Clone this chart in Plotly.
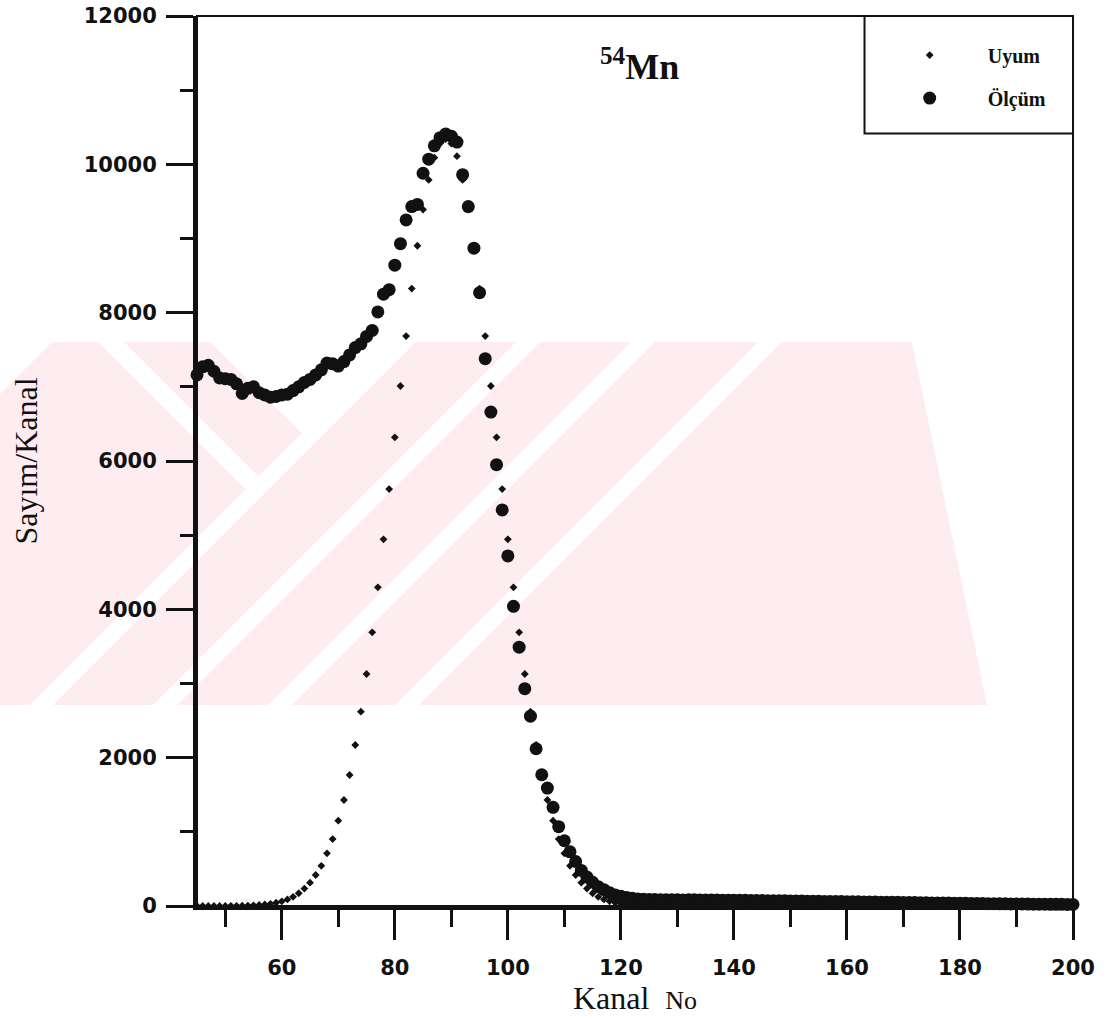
import plotly.graph_objects as go

# Channel numbers (Kanal No)
kanal = list(range(45, 201))

# Measured counts per channel (Ölçüm), channels 45..200
olcum = [
    7160, 7270, 7290, 7210, 7120, 7110, 7100, 7040, 6910, 6980,   # 45-54
    7000, 6920, 6890, 6860, 6870, 6890, 6900, 6950, 7000, 7060,   # 55-64
    7100, 7160, 7230, 7320, 7310, 7280, 7340, 7430, 7530, 7580,   # 65-74
    7680, 7760, 8010, 8250, 8310, 8640, 8930, 9250, 9430, 9460,   # 75-84
    9880, 10070, 10250, 10360, 10410, 10380, 10300, 9860, 9430, 8870,  # 85-94
    8270, 7380, 6660, 5950, 5340, 4720, 4040, 3490, 2930, 2560,   # 95-104
    2120, 1770, 1590, 1330, 1070, 880, 730, 600, 480, 390,        # 105-114
    320, 260, 220, 180, 150, 130, 115, 105, 95, 90,               # 115-124
    88, 86, 85, 84, 85, 83, 82, 84, 83, 82,                       # 125-134
    80, 81, 80, 79, 78, 77, 76, 77, 75, 74,                       # 135-144
    73, 72, 71, 72, 70, 68, 67, 66, 65, 64,                       # 145-154
    63, 62, 60, 61, 59, 58, 57, 56, 55, 54,                       # 155-164
    53, 52, 50, 51, 49, 48, 47, 46, 44, 43,                       # 165-174
    42, 41, 40, 39, 38, 37, 36, 35, 34, 33,                       # 175-184
    32, 31, 30, 29, 28, 27, 27, 26, 25, 24,                       # 185-194
    24, 23, 22, 22, 21, 20,                                       # 195-200
]

# Fitted counts per channel (Uyum), channels 45..200
uyum = [
    0, 0, 0, 0, 1, 1, 2, 3, 4, 6,                                 # 45-54
    9, 14, 21, 30, 44, 63, 89, 124, 172, 235,                     # 55-64
    315, 418, 542, 710, 902, 1150, 1429, 1766, 2171, 2620,        # 65-74
    3128, 3690, 4297, 4944, 5622, 6319, 7011, 7685, 8325, 8902,   # 75-84
    9390, 9790, 10090, 10280, 10340, 10280, 10110, 9790, 9390, 8902,  # 85-94
    8325, 7685, 7011, 6319, 5622, 4944, 4297, 3690, 3128, 2620,   # 95-104
    2171, 1766, 1429, 1150, 902, 710, 542, 418, 315, 235,         # 105-114
    172, 124, 89, 63, 44, 30, 21, 14, 9, 6,                       # 115-124
    4, 3, 2, 1, 1, 0, 0, 0, 0, 0,                                 # 125-134
    0, 0, 0, 0, 0, 0, 0, 0, 0, 0,                                 # 135-144
    0, 0, 0, 0, 0, 0, 0, 0, 0, 0,                                 # 145-154
    0, 0, 0, 0, 0, 0, 0, 0, 0, 0,                                 # 155-164
    0, 0, 0, 0, 0, 0, 0, 0, 0, 0,                                 # 165-174
    0, 0, 0, 0, 0, 0, 0, 0, 0, 0,                                 # 175-184
    0, 0, 0, 0, 0, 0, 0, 0, 0, 0,                                 # 185-194
    0, 0, 0, 0, 0, 0,                                             # 195-200
]

INK = "#111111"
PINK = "#fdedf0"
TICK_FONT = dict(family="DejaVu Sans", size=21, color=INK, weight="bold")
SERIF = "Liberation Serif"

# Page layout in pixels (plot area edges)
PLOT_L, PLOT_R, PLOT_T, PLOT_B = 197, 1073, 16, 906


def to_paper(x, y):
    return (x - PLOT_L) / (PLOT_R - PLOT_L), (PLOT_B - y) / (PLOT_B - PLOT_T)


def poly_path(points):
    coords = [to_paper(x, y) for x, y in points]
    return "M " + " L ".join(f"{px:.4f},{py:.4f}" for px, py in coords) + " Z"


# Background watermark: a light pink band cut by white diagonal gaps
watermark_fill = [(52, 342), (912, 342), (987, 705), (0, 705), (0, 394)]
watermark_gaps = [
    [(210, 342), (393, 342), (301.7, 433.3)],            # top notch
    [(98, 342), (124, 342), (258.5, 476.5), (245.5, 489.5)],
    [(393, 342), (416, 342), (53, 705), (30, 705)],
    [(516, 342), (540, 342), (177, 705), (153, 705)],
    [(631, 342), (655, 342), (292, 705), (268, 705)],
    [(758, 342), (782, 342), (419, 705), (395, 705)],
]

fig = go.Figure()

fig.add_trace(go.Scatter(
    x=kanal, y=olcum, mode="markers", name="Ölçüm",
    legendgroup="olcum", legendrank=2, cliponaxis=False,
    marker=dict(symbol="circle", size=13, color=INK, line=dict(width=0)),
))
fig.add_trace(go.Scatter(
    x=kanal, y=uyum, mode="markers", name="Uyum",
    legendgroup="uyum", legendrank=1, cliponaxis=False,
    marker=dict(symbol="diamond", size=6, color=INK, line=dict(width=0)),
))

fig.update_layout(
    width=1110, height=1020,
    margin=dict(l=PLOT_L, r=1110 - PLOT_R, t=PLOT_T, b=1020 - PLOT_B, pad=0),
    paper_bgcolor="white", plot_bgcolor="rgba(0,0,0,0)",
    showlegend=True,
    legend=dict(
        x=0.7702, y=0.978, xanchor="left", yanchor="top",
        bgcolor="rgba(0,0,0,0)", borderwidth=0,
        itemwidth=106, tracegroupgap=14, traceorder="grouped",
        font=dict(family=SERIF, size=20, color=INK, weight="bold"),
    ),
    xaxis=dict(
        range=[45, 200], showgrid=False, zeroline=False, automargin=False,
        showline=True, linewidth=4, linecolor=INK,
        ticks="outside", ticklen=30, tickwidth=3, tickcolor=INK,
        tick0=0, dtick=20, tickfont=TICK_FONT, ticklabelstandoff=10,
        minor=dict(ticks="outside", ticklen=17, tickwidth=3, tickcolor=INK,
                   tick0=0, dtick=10, showgrid=False),
        title=dict(text="Kanal  <span style='font-size:26px'>No</span>",
                   font=dict(family=SERIF, size=32, color=INK), standoff=6),
    ),
    yaxis=dict(
        range=[0, 12000], showgrid=False, zeroline=False, automargin=False,
        showline=True, linewidth=4, linecolor=INK,
        ticks="outside", ticklen=27, tickwidth=3, tickcolor=INK,
        tick0=0, dtick=2000, tickformat="d", tickfont=TICK_FONT,
        ticklabelstandoff=5,
        minor=dict(ticks="outside", ticklen=13, tickwidth=3, tickcolor=INK,
                   tick0=0, dtick=1000, showgrid=False),
        title=dict(text="Sayım/Kanal",
                   font=dict(family=SERIF, size=32, color=INK), standoff=38),
    ),
)

fig.add_shape(type="path", xref="paper", yref="paper", layer="below",
              path=poly_path(watermark_fill), fillcolor=PINK,
              line=dict(width=0))
for gap in watermark_gaps:
    fig.add_shape(type="path", xref="paper", yref="paper", layer="below",
                  path=poly_path(gap), fillcolor="white", line=dict(width=0))

# Thin frame on the top and right sides of the plot
fig.add_shape(type="rect", xref="paper", yref="paper", x0=0, x1=1, y0=0, y1=1,
              line=dict(color=INK, width=2), fillcolor="rgba(0,0,0,0)")

# Legend box
fig.add_shape(type="rect", xref="paper", yref="paper",
              x0=0.762, x1=1.0, y0=0.868, y1=1.0,
              line=dict(color=INK, width=2), fillcolor="rgba(0,0,0,0)")

# Isotope label
fig.add_annotation(
    text="<sup>54</sup>Mn", xref="paper", yref="paper",
    x=0.5048, y=0.945, xanchor="center", yanchor="middle", showarrow=False,
    font=dict(family=SERIF, size=36, color=INK, weight="bold"),
)

fig.write_html("out.html")
